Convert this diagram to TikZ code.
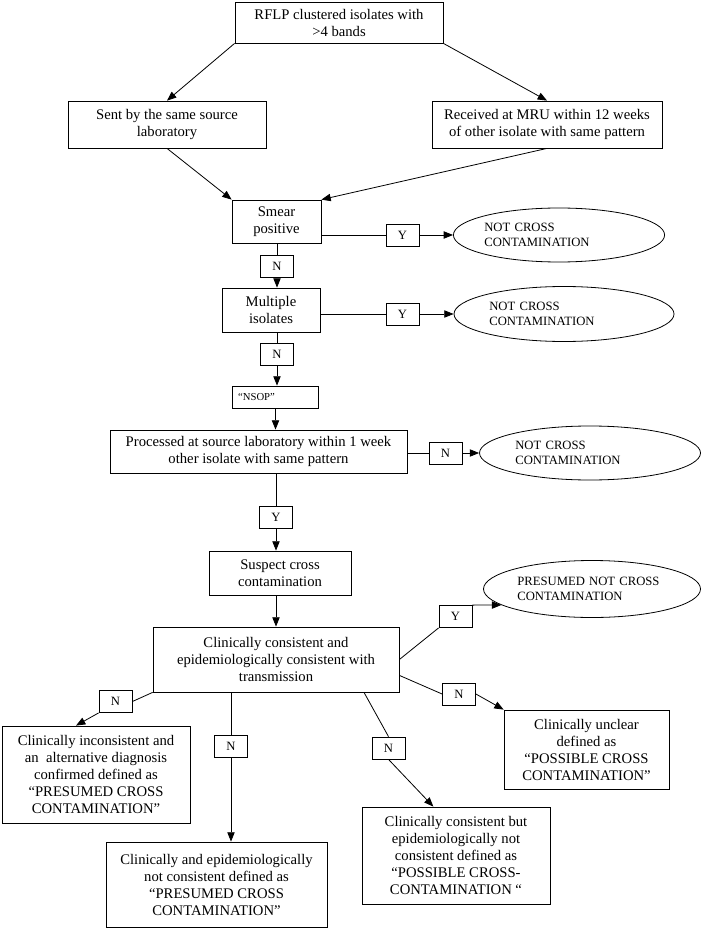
\documentclass[tikz,border=0pt]{standalone}
\usepackage{fontspec}
\setmainfont{Liberation Serif}
\usetikzlibrary{shapes.geometric,arrows.meta}

\begin{document}
\begin{tikzpicture}[x=0.75pt,y=-0.75pt,line width=0.6pt,
  >={Triangle[length=7pt,width=5.5pt]},
  box/.style 2 args={draw,align=center,inner sep=0pt,minimum width=#1*0.75pt,minimum height=#2*0.75pt,font=\fontsize{11}{12.75}\selectfont},
  oval/.style 2 args={draw,ellipse,inner sep=0pt,minimum width=#1*0.75pt,minimum height=#2*0.75pt,text width=112pt,align=left,font=\fontsize{9.5}{11.25}\selectfont},
  yn/.style={draw,inner sep=0pt,minimum width=24.75pt,minimum height=16.5pt,font=\fontsize{9.5}{10}\selectfont},
  tag/.style={draw,inner xsep=4.5pt,inner ysep=0pt,minimum height=16.5pt,text width=56pt,align=left,font=\fontsize{8}{9}\selectfont}]
\useasboundingbox (0,0) rectangle (701,930);

\node[box={208}{41}] (rflp) at (339,22.5) {RFLP clustered isolates with\\>4 bands};
\node[box={198}{47}] (sent) at (167,124.5) {Sent by the same source\\laboratory};
\node[box={230}{47}] (recv) at (547,124.5) {Received at MRU within 12 weeks\\of other isolate with same pattern};
\node[box={89}{43}] (smear) at (276.5,221.5) {Smear\\positive};
\node[yn] (y1) at (402.5,235) {Y};
\node[oval={210}{54}] (nc1) at (559,235) {NOT CROSS\\CONTAMINATION};
\node[yn] (n1) at (277,266) {N};
\node[box={98}{44}] (multi) at (271,310) {Multiple\\isolates};
\node[yn] (y2) at (402.5,314) {Y};
\node[oval={220}{55}] (nc2) at (564,314) {NOT CROSS\\CONTAMINATION};
\node[yn] (n2) at (277,354) {N};
\node[tag] (nsop) at (275.5,397) {“NSOP”};
\node[box={297}{43}] (proc) at (258.5,451.5) {Processed at source laboratory within 1 week\\other isolate with same pattern};
\node[yn] (n3) at (445.5,453) {N};
\node[oval={221}{54}] (nc3) at (590,453) {NOT CROSS\\CONTAMINATION};
\node[yn] (y3) at (276,517.5) {Y};
\node[box={142}{44}] (susp) at (280,573) {Suspect cross\\contamination};
\node[box={246}{65}] (clin) at (276,659.5) {Clinically consistent and\\epidemiologically consistent with\\transmission};
\node[yn] (y4) at (455.5,616.5) {Y};
\node[oval={217}{57}] (pnc) at (592,589) {PRESUMED NOT CROSS\\CONTAMINATION};
\node[yn] (n4) at (459,694) {N};
\node[box={165}{79}] (unclear) at (586.5,749.5) {Clinically unclear\\defined as\\“POSSIBLE CROSS\\CONTAMINATION”};
\node[yn] (n5) at (115.5,701.5) {N};
\node[box={188}{97}] (incons) at (96,774.5) {Clinically inconsistent and\\an\ \ alternative diagnosis\\confirmed defined as\\“PRESUMED CROSS\\CONTAMINATION”};
\node[yn] (n6) at (231,746.5) {N};
\node[box={221}{85}] (notcons) at (216.5,884.5) {Clinically and epidemiologically\\not consistent defined as\\“PRESUMED CROSS\\CONTAMINATION”};
\node[yn] (n7) at (388.5,748) {N};
\node[box={188}{97}] (butnot) at (456,855.5) {Clinically consistent but\\epidemiologically not\\consistent defined as\\“POSSIBLE CROSS-\\CONTAMINATION “};

\draw[->] (rflp.south west) -- (sent.north);
\draw[->] (rflp.south east) -- (recv.north);
\draw[->] (sent.south) -- (smear.north west);
\draw[->] (recv.south) -- (smear.north east);
\draw (smear.east |- y1) -- (y1.west);
\draw[->] (y1.east) -- (nc1.west);
\draw (smear.south -| n1) -- (n1.north);
\draw[->] (n1.south) -- (n1.south |- multi.north);
\draw (multi.east |- y2) -- (y2.west);
\draw[->] (y2.east) -- (nc2.west);
\draw (multi.south -| n2) -- (n2.north);
\draw[->] (n2.south) -- (n2.south |- nsop.north);
\draw[->] (nsop.south) -- (nsop.south |- proc.north);
\draw (proc.east |- n3) -- (n3.west);
\draw[->] (n3.east) -- (nc3.west);
\draw (proc.south -| y3) -- (y3.north);
\draw[->] (y3.south) -- (y3.south |- susp.north);
\draw[->] (susp.south -| clin.north) -- (clin.north);
\draw (clin.east) -- (y4.south west);
\draw[->] (y4.north east) -- (pnc.190);
\draw (clin.south east) ++(0,-17) -- (n4.west);
\draw[->] (n4.east) -- (unclear.north west);
\draw (clin.south west) -- (n5.east);
\draw[->] (n5.south west) -- ([xshift=-15pt]incons.north);
\draw (clin.south -| n6) -- (n6.north);
\draw[->] (n6.south) -- (n6.south |- notcons.north);
\draw ([xshift=66pt]clin.south) -- (n7.north);
\draw[->] (n7.south) -- ([xshift=-17pt]butnot.north);
\end{tikzpicture}
\end{document}
